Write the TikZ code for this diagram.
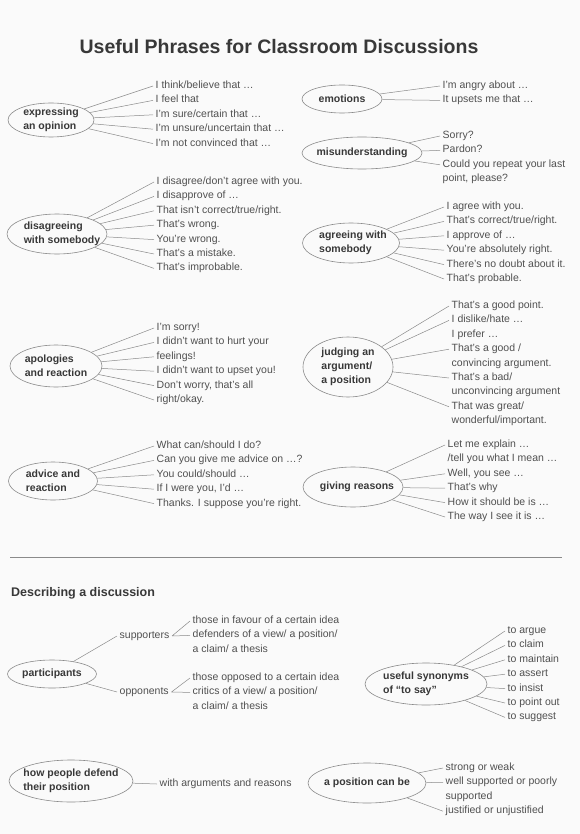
\documentclass[tikz,border=0pt]{standalone}
\usepackage{fontspec}
\setmainfont{Liberation Sans}
\usetikzlibrary{
  positioning,
  shapes.geometric
}

\definecolor{inkgray}{HTML}{505050}
\definecolor{headgray}{HTML}{383838}
\definecolor{linegray}{HTML}{8A8A8A}
\definecolor{papergray}{HTML}{FAFAFA}

\begin{document}
\begin{tikzpicture}[
  x=1pt, y=-1pt,
  font=\fontsize{10.5}{14}\selectfont,
  topic/.style={
    ellipse,
    draw=linegray,
    line width=0.6pt,
    inner sep=0pt
  },
  toptext/.style={
    align=left,
    inner sep=0pt,
    text=headgray,
    font=\fontsize{10.5}{14}\selectfont\bfseries
  },
  phrase/.style={
    anchor=west,
    inner xsep=2.5pt,
    inner ysep=0pt,
    text height=8pt,
    text depth=3pt,
    minimum height=14pt,
    text=inkgray
  },
  nextline/.style={
    phrase,
    below=0pt of #1.south west,
    anchor=north west
  },
  link/.style={
    draw=linegray,
    line width=0.5pt
  }
]
\fill[papergray] (0,0) rectangle (580,834);
\useasboundingbox (0,0) rectangle (580,834);

% Title
\node[font=\fontsize{19.5}{22}\selectfont\bfseries, text=headgray] (title) at (279,47) {Useful Phrases for Classroom Discussions};

% Expressing an opinion
\node[topic, minimum width=86pt, minimum height=34pt, label={[toptext]center:expressing\\an opinion}] (opinion) at (51,120) {};
\node[phrase] (op1) at (153,86) {I think/believe that …};
\node[nextline=op1] (op2) {I feel that};
\node[nextline=op2] (op3) {I'm sure/certain that …};
\node[nextline=op3] (op4) {I'm unsure/uncertain that …};
\node[nextline=op4] (op5) {I'm not convinced that …};
\draw[link] (opinion) -- (op1.west) (opinion) -- (op2.west) (opinion) -- (op3.west)
  (opinion) -- (op4.west) (opinion) -- (op5.west);

% Emotions & Misunderstanding
\node[topic, minimum width=80pt, minimum height=28pt, label={[toptext]center:emotions}] (emotions) at (342,99) {};
\node[phrase] (em1) at (440,86) {I'm angry about …};
\node[nextline=em1] (em2) {It upsets me that …};
\draw[link] (emotions) -- (em1.west) (emotions) -- (em2.west);

\node[topic, minimum width=120pt, minimum height=32pt, label={[toptext]center:misunderstanding}] (misund) at (362,153) {};
\node[phrase] (mi1) at (440,136) {Sorry?};
\node[nextline=mi1] (mi2) {Pardon?};
\node[nextline=mi2] (mi3) {Could you repeat your last};
\node[nextline=mi3] (mi4) {point, please?};
\draw[link] (misund) -- (mi1.west) (misund) -- (mi2.west) (misund) -- (mi3.west);

% Disagreeing & Agreeing
\node[topic, minimum width=100pt, minimum height=40pt, label={[toptext, xshift=5pt]center:disagreeing\\with somebody}] (disagree) at (57,234) {};
\node[phrase] (di1) at (154,182) {I disagree/don't agree with you.};
\node[nextline=di1] (di2) {I disapprove of …};
\node[nextline=di2] (di3) {That isn't correct/true/right.};
\node[nextline=di3] (di4) {That's wrong.};
\node[nextline=di4] (di5) {You're wrong.};
\node[nextline=di5] (di6) {That's a mistake.};
\node[nextline=di6] (di7) {That's improbable.};
\draw[link] (disagree) -- (di1.west) (disagree) -- (di2.west) (disagree) -- (di3.west)
  (disagree) -- (di4.west) (disagree) -- (di5.west) (disagree) -- (di6.west)
  (disagree) -- (di7.west);

\node[topic, minimum width=97pt, minimum height=40pt, label={[toptext, xshift=2pt]center:agreeing with\\somebody}] (agree) at (351,243) {};
\node[phrase] (ag1) at (444,207) {I agree with you.};
\node[nextline=ag1] (ag2) {That's correct/true/right.};
\node[nextline=ag2] (ag3) {I approve of …};
\node[nextline=ag3] (ag4) {You're absolutely right.};
\node[nextline=ag4] (ag5) {There's no doubt about it.};
\node[nextline=ag5] (ag6) {That's probable.};
\draw[link] (agree) -- (ag1.west) (agree) -- (ag2.west) (agree) -- (ag3.west)
  (agree) -- (ag4.west) (agree) -- (ag5.west) (agree) -- (ag6.west);

% Apologies & Judging
\node[topic, minimum width=92pt, minimum height=42pt, label={[toptext]center:apologies\\and reaction}] (apology) at (56,366) {};
\node[phrase] (ap1) at (154,328) {I'm sorry!};
\node[nextline=ap1] (ap2) {I didn't want to hurt your};
\node[nextline=ap2] (ap3) {feelings!};
\node[nextline=ap3] (ap4) {I didn't want to upset you!};
\node[nextline=ap4] (ap5) {Don't worry, that's all};
\node[nextline=ap5] (ap6) {right/okay.};
\draw[link] (apology) -- (ap1.west) (apology) -- (ap2.west) (apology) -- (ap3.west)
  (apology) -- (ap4.west) (apology) -- (ap5.west) (apology) -- (ap6.west);

\node[topic, minimum width=90pt, minimum height=60pt, label={[toptext]center:judging an\\argument/\\a position}] (judging) at (348,367) {};
\node[phrase] (ju1) at (449,306) {That's a good point.};
\node[nextline=ju1] (ju2) {I dislike/hate …};
\node[nextline=ju2] (ju3) {I prefer …};
\node[nextline=ju3] (ju4) {That's a good /};
\node[nextline=ju4] (ju5) {convincing argument.};
\node[nextline=ju5] (ju6) {That's a bad/};
\node[nextline=ju6] (ju7) {unconvincing argument};
\node[nextline=ju7] (ju8) {That was great/};
\node[nextline=ju8] (ju9) {wonderful/important.};
\draw[link] (judging) -- (ju1.west) (judging) -- (ju2.west) (judging) -- (ju4.west)
  (judging) -- (ju6.west) (judging) -- (ju8.west);

% Advice & Reasons
\node[topic, minimum width=89pt, minimum height=38pt, label={[toptext]center:advice and\\reaction}] (advice) at (53,481) {};
\node[phrase] (ad1) at (154,446) {What can/should I do?};
\node[nextline=ad1] (ad2) {Can you give me advice on …?};
\node[nextline=ad2] (ad3) {You could/should …};
\node[nextline=ad3] (ad4) {If I were you, I'd …};
\node[nextline=ad4] (ad5) {Thanks. I suppose you're right.};
\draw[link] (advice) -- (ad1.west) (advice) -- (ad2.west) (advice) -- (ad3.west)
  (advice) -- (ad4.west) (advice) -- (ad5.west);

\node[topic, minimum width=100pt, minimum height=40pt, label={[toptext, xshift=4pt]center:giving reasons}] (reasons) at (353,487) {};
\node[phrase] (re1) at (445,445) {Let me explain …};
\node[nextline=re1] (re2) {/tell you what I mean …};
\node[nextline=re2] (re3) {Well, you see …};
\node[nextline=re3] (re4) {That's why};
\node[nextline=re4] (re5) {How it should be is …};
\node[nextline=re5] (re6) {The way I see it is …};
\draw[link] (reasons) -- (re1.west) (reasons) -- (re3.west) (reasons) -- (re4.west)
  (reasons) -- (re5.west) (reasons) -- (re6.west);

% Describing a discussion
\draw[linegray, line width=0.8pt] (10,557) -- (562,557);
\node[anchor=west, inner sep=0pt, text=headgray, font=\fontsize{12.5}{14}\selectfont\bfseries] (describe) at (11,593) {Describing a discussion};

\node[topic, minimum width=89pt, minimum height=28pt, label={[toptext]center:participants}] (partic) at (52,674) {};
\node[phrase] (sup) at (117,636) {supporters};
\node[phrase] (opp) at (117,692) {opponents};
\node[phrase] (su1) at (190,621) {those in favour of a certain idea};
\node[nextline=su1] (su2) {defenders of a view/ a position/};
\node[nextline=su2] (su3) {a claim/ a thesis};
\node[phrase] (oo1) at (190,678) {those opposed to a certain idea};
\node[nextline=oo1] (oo2) {critics of a view/ a position/};
\node[nextline=oo2] (oo3) {a claim/ a thesis};
\draw[link] (partic) -- (sup.west) (partic) -- (opp.west);
\draw[link] (sup.east) -- (su1.west) (sup.east) -- (su2.west);
\draw[link] (opp.east) -- (oo1.west) (opp.east) -- (oo2.west);

\node[topic, minimum width=122pt, minimum height=42pt, label={[toptext]center:useful synonyms\\of ``to say''}] (synonyms) at (426,684) {};
\node[phrase] (sy1) at (505,631) {to argue};
\node[nextline=sy1] (sy2) {to claim};
\node[nextline=sy2] (sy3) {to maintain};
\node[nextline=sy3] (sy4) {to assert};
\node[nextline=sy4] (sy5) {to insist};
\node[nextline=sy5] (sy6) {to point out};
\node[nextline=sy6] (sy7) {to suggest};
\draw[link] (synonyms) -- (sy1.west) (synonyms) -- (sy2.west) (synonyms) -- (sy3.west)
  (synonyms) -- (sy4.west) (synonyms) -- (sy5.west) (synonyms) -- (sy6.west)
  (synonyms) -- (sy7.west);

% Defending & Positions
\node[topic, minimum width=124pt, minimum height=42pt, label={[toptext]center:how people defend\\their position}] (defend) at (71,781) {};
\node[phrase] (arg) at (157,784) {with arguments and reasons};
\draw[link] (defend) -- (arg.west);

\node[topic, minimum width=118pt, minimum height=40pt, label={[toptext]center:a position can be}] (position) at (367,783) {};
\node[phrase] (po1) at (443,768) {strong or weak};
\node[nextline=po1] (po2) {well supported or poorly};
\node[nextline=po2] (po3) {supported};
\node[nextline=po3] (po4) {justified or unjustified};
\draw[link] (position) -- (po1.west) (position) -- (po2.west) (position) -- (po4.west);

\end{tikzpicture}
\end{document}
